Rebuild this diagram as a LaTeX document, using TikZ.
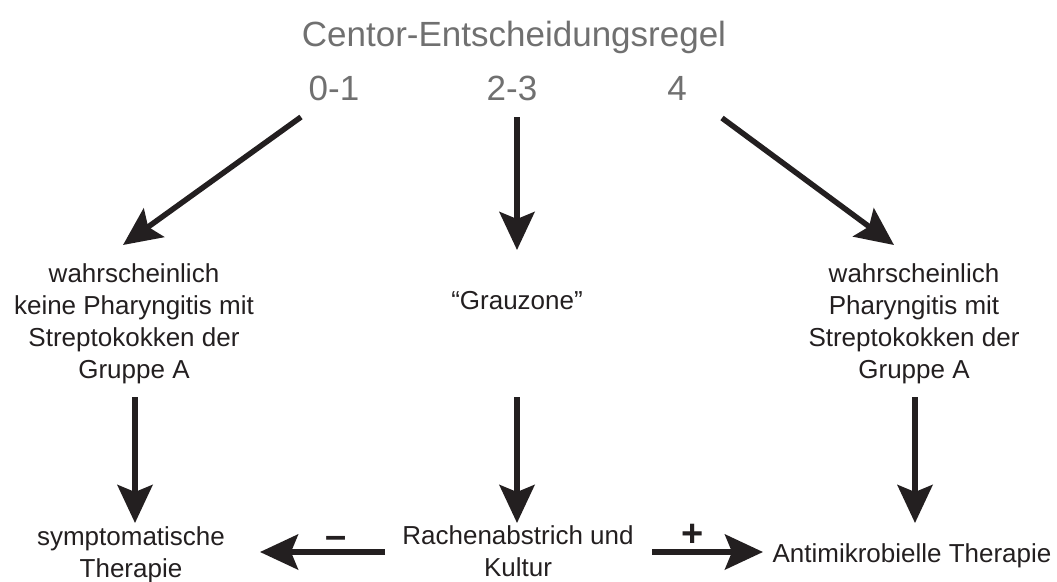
\documentclass[tikz,border=0pt]{standalone}
\usepackage{fontspec}
\setmainfont{Liberation Sans}
\usetikzlibrary{arrows.meta}
\definecolor{ink}{RGB}{35,31,32}
\definecolor{headgray}{RGB}{112,112,112}
\tikzset{
  px/.style={x=1pt,y=-1pt},
  heading/.style={text=headgray,font=\fontsize{35}{40}\selectfont,inner sep=0pt,anchor=base},
  label/.style={text=ink,font=\fontsize{26}{32}\selectfont,align=center,inner sep=0pt,anchor=base},
  sign/.style={text=ink,font=\fontsize{38}{42}\selectfont\bfseries,inner sep=0pt},
  flow/.style={draw=ink,line width=5.5pt,-{Stealth[length=38pt,width=35pt,inset=7pt]}}
}
\begin{document}
\begin{tikzpicture}[px]
\useasboundingbox (0,0) rectangle (1057,581);

% title and score ranges
\node[heading] (title) at (514,46) {Centor-Entscheidungsregel};
\node[heading] (s01) at (334,100) {0-1};
\node[heading] (s23) at (512,100) {2-3};
\node[heading] (s4) at (677,100) {4};

% middle row (base anchor sits on the last line)
\node[label] (low) at (134,378) {wahrscheinlich\\keine Pharyngitis mit\\Streptokokken der\\Gruppe A};
\node[label] (grey) at (517,309) {“Grauzone”};
\node[label] (high) at (914,378) {wahrscheinlich\\Pharyngitis mit\\Streptokokken der\\Gruppe A};

% bottom row
\node[label] (sympt) at (131,577) {symptomatische\\Therapie};
\node[label] (swab) at (518,576) {Rachenabstrich und\\Kultur};
\node[label] (anti) at (912,562) {Antimikrobielle Therapie};

% result signs
\node[sign] (neg) at (336,542) {–};
\node[sign] (pos) at (693,535) {+};

% arrow end points
\coordinate (a1s) at (301,117);  \coordinate (a1e) at (123,245);
\coordinate (a2s) at (517,117);  \coordinate (a2e) at (517,250);
\coordinate (a3s) at (722,118);  \coordinate (a3e) at (894,245);
\coordinate (b1s) at (135,397);  \coordinate (b1e) at (135,523);
\coordinate (b2s) at (517,397);  \coordinate (b2e) at (517,523);
\coordinate (b3s) at (915,397);  \coordinate (b3e) at (915,523);
\coordinate (c1s) at (385,552);  \coordinate (c1e) at (260,552);
\coordinate (c2s) at (652,552);  \coordinate (c2e) at (763,552);

\draw[flow] (a1s) -- (a1e);
\draw[flow] (a2s) -- (a2e);
\draw[flow] (a3s) -- (a3e);
\draw[flow] (b1s) -- (b1e);
\draw[flow] (b2s) -- (b2e);
\draw[flow] (b3s) -- (b3e);
\draw[flow] (c1s) -- (c1e);
\draw[flow] (c2s) -- (c2e);
\end{tikzpicture}
\end{document}
